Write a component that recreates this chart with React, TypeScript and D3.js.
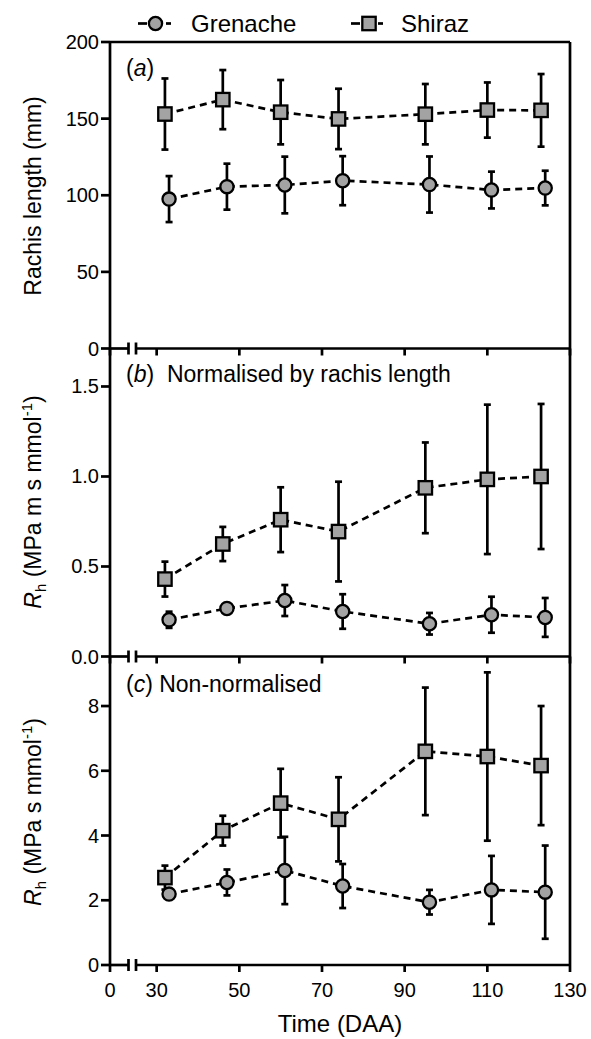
import React from 'react';
import * as d3 from 'd3';

// sampling days (DAA); Grenache is drawn offset by one day
const grenacheDays = [33, 47, 61, 75, 96, 111, 124];
const shirazDays = [32, 46, 60, 74, 95, 110, 123];

// (a) rachis length, mm
const rachisGren = [97.5, 105.6, 106.7, 109.5, 107, 103.4, 104.7];
const rachisGrenErr = [15, 15, 18.5, 16, 18.3, 12, 11.3];
const rachisShz = [153, 162.4, 154.2, 149.8, 152.9, 155.6, 155.4];
const rachisShzErr = [23.2, 19.3, 21, 19.7, 19.7, 18, 23.7];

// (b) Rh normalised by rachis length
const normGren = [0.204, 0.267, 0.311, 0.25, 0.182, 0.232, 0.217];
const normGrenErr = [0.045, 0.02, 0.086, 0.096, 0.06, 0.1, 0.108];
const normShz = [0.43, 0.625, 0.76, 0.694, 0.937, 0.984, 1.0];
const normShzErr = [0.097, 0.095, 0.18, 0.277, 0.252, 0.415, 0.403];

// (c) Rh non-normalised
const rawGren = [2.19, 2.55, 2.92, 2.44, 1.94, 2.32, 2.25];
const rawGrenErr = [0.12, 0.4, 1.04, 0.68, 0.38, 1.05, 1.44];
const rawShz = [2.7, 4.15, 5.0, 4.5, 6.6, 6.44, 6.16];
const rawShzErr = [0.37, 0.46, 1.06, 1.3, 1.97, 2.6, 1.84];

const yTicksA = [0, 50, 100, 150, 200];
const yTicksB = [0, 0.5, 1.0, 1.5];
const yTicksC = [0, 2, 4, 6, 8];
const xTicksHi = [30, 50, 70, 90, 110, 130];
const xTicksLo = [0];

const FONT = '"Liberation Sans", Arial, Helvetica, sans-serif';
const FILL = '#a3a3a3';
const SW = 2.7;
const L = 110, R = 570, TOP = 42;

const xLo = d3.scaleLinear().domain([0, 4.5]).range([L, 128.5]);
const xHi = d3.scaleLinear().domain([25, 130]).range([136, R]);

type Panel = {
  y: d3.ScaleLinear<number, number>;
  ticks: number[];
  fmt: (d: number) => string;
  gren: number[]; grenErr: number[];
  shz: number[]; shzErr: number[];
};

const panels: Panel[] = [
  { y: d3.scaleLinear().domain([0, 200]).range([348.5, TOP]), ticks: yTicksA, fmt: d3.format('d'),
    gren: rachisGren, grenErr: rachisGrenErr, shz: rachisShz, shzErr: rachisShzErr },
  { y: d3.scaleLinear().domain([0, 1.711]).range([656.5, 348.5]), ticks: yTicksB, fmt: d3.format('.1f'),
    gren: normGren, grenErr: normGrenErr, shz: normShz, shzErr: normShzErr },
  { y: d3.scaleLinear().domain([0, 9.53]).range([965, 656.5]), ticks: yTicksC, fmt: d3.format('d'),
    gren: rawGren, grenErr: rawGrenErr, shz: rawShz, shzErr: rawShzErr },
];

function Marker({ x, y, shape }: { x: number; y: number; shape: 'circle' | 'square' }) {
  return shape === 'circle'
    ? <circle cx={x} cy={y} r={6.6} fill={FILL} stroke="#000" strokeWidth={2.3} />
    : <rect x={x - 6.7} y={y - 6.7} width={13.4} height={13.4} fill={FILL} stroke="#000" strokeWidth={2.3} />;
}

function Series({ days, mean, err, y, shape }: { days: number[]; mean: number[]; err: number[]; y: d3.ScaleLinear<number, number>; shape: 'circle' | 'square' }) {
  const pts = days.map((d, i) => [xHi(d), y(mean[i])] as [number, number]);
  const line = d3.line()(pts) || '';
  return (
    <g>
      <path d={line} fill="none" stroke="#000" strokeWidth={SW} strokeDasharray="7,5" />
      {days.map((d, i) => {
        const x = xHi(d), y1 = y(mean[i] + err[i]), y0 = y(mean[i] - err[i]);
        return (
          <g key={'e' + i} stroke="#000" strokeWidth={SW}>
            <line x1={x} x2={x} y1={y0} y2={y1} />
            <line x1={x - 3.5} x2={x + 3.5} y1={y1} y2={y1} />
            <line x1={x - 3.5} x2={x + 3.5} y1={y0} y2={y0} />
          </g>
        );
      })}
      {pts.map((p, i) => <Marker key={'m' + i} x={p[0]} y={p[1]} shape={shape} />)}
    </g>
  );
}

function BottomAxis({ yb, labels }: { yb: number; labels: boolean }) {
  const brk1 = xLo.range()[1], brk2 = xHi.range()[0];
  return (
    <g stroke="#000" strokeWidth={SW}>
      <line x1={L} x2={brk1} y1={yb} y2={yb} />
      <line x1={brk1} x2={brk1} y1={yb - 6} y2={yb + 6} />
      <line x1={brk2} x2={brk2} y1={yb - 6} y2={yb + 6} />
      <line x1={brk2} x2={R} y1={yb} y2={yb} />
      {xTicksLo.map(t => <line key={'l' + t} x1={xLo(t)} x2={xLo(t)} y1={yb} y2={yb + 7} />)}
      {xTicksHi.map(t => <line key={'h' + t} x1={xHi(t)} x2={xHi(t)} y1={yb} y2={yb + 7} />)}
      {labels && (
        <g stroke="none" fill="#000" fontSize={20} textAnchor="middle">
          {xTicksLo.map(t => <text key={'lt' + t} x={xLo(t)} y={yb + 32}>{t}</text>)}
          {xTicksHi.map(t => <text key={'ht' + t} x={xHi(t)} y={yb + 32}>{t}</text>)}
        </g>
      )}
    </g>
  );
}

export default function App() {
  return (
    <svg width={591} height={1039} style={{ position: 'absolute', left: 0, top: 0, background: '#fff' }} fontFamily={FONT}>
      {/* legend */}
      <g stroke="#000" strokeWidth={SW}>
        <line x1={138} x2={147} y1={23.5} y2={23.5} />
        <line x1={166} x2={171} y1={23.5} y2={23.5} />
        <line x1={351} x2={360} y1={23.5} y2={23.5} />
        <line x1={378} x2={383} y1={23.5} y2={23.5} />
      </g>
      <Marker x={155.5} y={23.5} shape="circle" />
      <Marker x={369} y={23.5} shape="square" />
      <text x={191} y={32} fontSize={24}>Grenache</text>
      <text x={401} y={32} fontSize={24}>Shiraz</text>

      {/* frame */}
      <g stroke="#000" strokeWidth={SW} fill="none">
        <line x1={L} x2={L} y1={TOP} y2={965} />
        <line x1={R} x2={R} y1={TOP} y2={965} />
        <line x1={L} x2={R} y1={TOP} y2={TOP} />
      </g>

      {panels.map((p, k) => {
        const yb = p.y.range()[0];
        return (
          <g key={k}>
            <g stroke="#000" strokeWidth={SW}>
              {p.ticks.map(t => <line key={t} x1={L - 9} x2={L} y1={p.y(t)} y2={p.y(t)} />)}
            </g>
            <g fontSize={20} textAnchor="end">
              {p.ticks.map(t => <text key={t} x={99} y={p.y(t) + 7}>{p.fmt(t)}</text>)}
            </g>
            <BottomAxis yb={yb} labels={k === 2} />
            <Series days={shirazDays} mean={p.shz} err={p.shzErr} y={p.y} shape="square" />
            <Series days={grenacheDays} mean={p.gren} err={p.grenErr} y={p.y} shape="circle" />
          </g>
        );
      })}

      {/* panel labels */}
      <text x={126} y={76} fontSize={23}>(<tspan fontStyle="italic">a</tspan>)</text>
      <text x={126} y={382} fontSize={23} xmlSpace="preserve">(<tspan fontStyle="italic">b</tspan>)  Normalised by rachis length</text>
      <text x={126} y={692} fontSize={23}>(<tspan fontStyle="italic">c</tspan>) Non-normalised</text>

      {/* axis titles */}
      <text transform="translate(41,196) rotate(-90)" fontSize={23} textAnchor="middle">Rachis length (mm)</text>
      <text transform="translate(41,502) rotate(-90)" fontSize={23} textAnchor="middle">
        <tspan fontStyle="italic">R</tspan><tspan fontSize={15} dy={5}>h</tspan><tspan dy={-5}> (MPa m s mmol</tspan><tspan fontSize={15} dy={-9}>-1</tspan><tspan dy={9}>)</tspan>
      </text>
      <text transform="translate(41,812) rotate(-90)" fontSize={23} textAnchor="middle">
        <tspan fontStyle="italic">R</tspan><tspan fontSize={15} dy={5}>h</tspan><tspan dy={-5}> (MPa s mmol</tspan><tspan fontSize={15} dy={-9}>-1</tspan><tspan dy={9}>)</tspan>
      </text>
      <text x={340} y={1032} fontSize={24} textAnchor="middle">Time (DAA)</text>
    </svg>
  );
}
